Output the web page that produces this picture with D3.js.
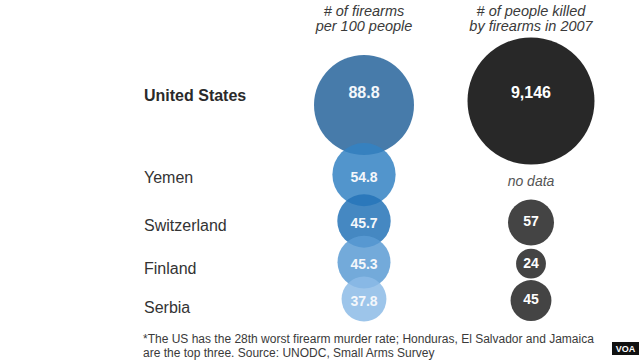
<!DOCTYPE html>
<html>
<head>
<meta charset="utf-8">
<script src="https://cdn.jsdelivr.net/npm/d3@7"></script>
<style>
  html, body { margin: 0; padding: 0; background: #fff; }
  svg { display: block; font-family: "Liberation Sans", Arial, Helvetica, sans-serif; }
</style>
</head>
<body>
<svg id="chart" width="640" height="360"></svg>
<script>
// ---- data ----
const countries = ["United States", "Yemen", "Switzerland", "Finland", "Serbia"];
const firearmsPer100 = [88.8, 54.8, 45.7, 45.3, 37.8];
const killed2007 = [9146, null, 57, 24, 45];
const headers = [["# of firearms", "per 100 people"], ["# of people killed", "by firearms in 2007"]];
const footnote = [
  "*The US has the 28th worst firearm murder rate; Honduras, El Salvador and Jamaica",
  "are the top three. Source: UNODC, Small Arms Survey"
];

// ---- layout ----
const svg = d3.select("#chart");
const xLabel = 144, xFire = 364, xKill = 531;

const rFire = d3.scaleLinear().domain([0, 88.8]).range([2, 50]);
const rKill = d3.scaleSqrt().domain([0, 57, 9146]).range([0, 23, 63.5]);

const fireColor = d3.scaleOrdinal().domain(countries)
  .range(["#27649b", "#3482c3", "#2473b7", "#5b9bd3", "#8cbbe6"]);

// stacked vertical positions of firearm bubbles
const overlap = 12;
const cy = [];
firearmsPer100.forEach((v, i) => {
  if (i === 0) cy.push(105);
  else cy.push(cy[i - 1] + rFire(firearmsPer100[i - 1]) + rFire(v) - overlap);
});

// headers
const hdr = svg.append("g").attr("font-style", "italic").attr("font-size", 14.5).attr("fill", "#3a3a3a")
  .attr("text-anchor", "middle");
[[xFire, headers[0]], [xKill, headers[1]]].forEach(([x, lines]) => {
  lines.forEach((t, j) => hdr.append("text").attr("x", x).attr("y", 16 + j * 15).text(t));
});

// firearm bubbles
const fire = svg.append("g");
fire.selectAll("circle").data(firearmsPer100).join("circle")
  .attr("cx", xFire)
  .attr("cy", (d, i) => cy[i])
  .attr("r", d => rFire(d))
  .attr("fill", (d, i) => fireColor(countries[i]))
  .attr("fill-opacity", 0.85);
fire.selectAll("text").data(firearmsPer100).join("text")
  .attr("x", xFire)
  .attr("y", (d, i) => i === 0 ? cy[i] - 13 : cy[i] + 2)
  .attr("dy", "0.35em")
  .attr("text-anchor", "middle")
  .attr("font-weight", "bold")
  .attr("font-size", (d, i) => i === 0 ? 16 : 14)
  .attr("fill", "#f4f7fb")
  .text(d => d3.format(".1f")(d));

// killed bubbles
const kcy = (i) => i === 0 ? 101 : cy[i] + 1.5;
const kdata = killed2007.map((v, i) => ({ v, i })).filter(d => d.v !== null);
const kill = svg.append("g");
kill.selectAll("circle").data(kdata).join("circle")
  .attr("cx", xKill)
  .attr("cy", d => kcy(d.i))
  .attr("r", d => rKill(d.v))
  .attr("fill", d => d.i === 0 ? "#282828" : "#444444");
kill.selectAll("text.val").data(kdata).join("text")
  .attr("class", "val")
  .attr("x", xKill)
  .attr("y", d => d.i === 0 ? kcy(d.i) - 9 : kcy(d.i) - 1)
  .attr("dy", "0.35em")
  .attr("text-anchor", "middle")
  .attr("font-weight", "bold")
  .attr("font-size", d => d.i === 0 ? 16 : 14)
  .attr("fill", "#ffffff")
  .text(d => d3.format(",")(d.v));
killed2007.forEach((v, i) => {
  if (v === null) {
    svg.append("text").attr("x", xKill).attr("y", cy[i] + 6)
      .attr("dy", "0.35em")
      .attr("text-anchor", "middle").attr("font-style", "italic")
      .attr("font-size", 14).attr("fill", "#555").text("no data");
  }
});

// country labels
svg.append("g").selectAll("text").data(countries).join("text")
  .attr("x", xLabel)
  .attr("y", (d, i) => i === 0 ? 101 : cy[i] + 6 + 2 * i)
  .attr("font-size", 16)
  .attr("font-weight", (d, i) => i === 0 ? "bold" : "normal")
  .attr("fill", (d, i) => i === 0 ? "#2a2a2a" : "#333")
  .text(d => d);

// footnote
const fn = svg.append("g").attr("font-size", 12).attr("fill", "#3a3a3a");
footnote.forEach((t, j) => fn.append("text").attr("x", 143).attr("y", 343 + j * 13.5).text(t));

// VOA logo
svg.append("rect").attr("x", 612).attr("y", 342).attr("width", 27).attr("height", 13).attr("fill", "#111");
svg.append("text").attr("x", 625.5).attr("y", 348.5).attr("dy", "0.35em").attr("text-anchor", "middle")
  .attr("font-size", 9).attr("font-weight", "bold").attr("fill", "#fff").text("VOA");
</script>
</body>
</html>
